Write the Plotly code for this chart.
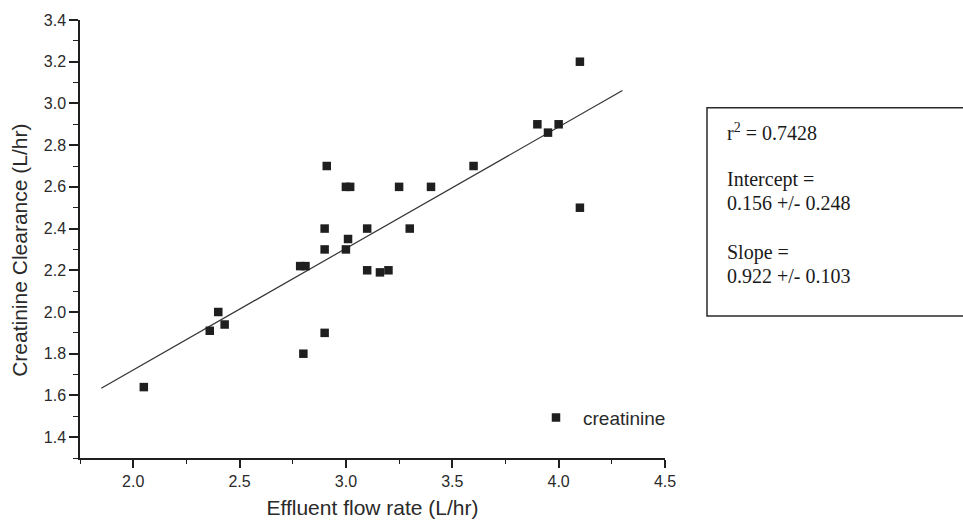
import numpy as np
import plotly.graph_objects as go

# Effluent flow rate (L/hr) vs creatinine clearance (L/hr)
flow_rate = [2.05, 2.36, 2.40, 2.43, 2.785, 2.81, 2.80, 2.90, 2.90, 2.90,
             2.91, 3.00, 3.02, 3.00, 3.01, 3.10, 3.10, 3.16, 3.20, 3.25,
             3.30, 3.40, 3.60, 3.90, 3.95, 4.00, 4.10, 4.10]
clearance = [1.64, 1.91, 2.00, 1.94, 2.22, 2.22, 1.80, 1.90, 2.30, 2.40,
             2.70, 2.60, 2.60, 2.30, 2.35, 2.40, 2.20, 2.19, 2.20, 2.60,
             2.40, 2.60, 2.70, 2.90, 2.86, 2.90, 3.20, 2.50]

# Regression statistics printed in the box
r_squared = "0.7428"
intercept_txt = "0.156 +/- 0.248"
slope_txt = "0.922 +/- 0.103"

x_ticks = [2.0, 2.5, 3.0, 3.5, 4.0, 4.5]
y_ticks = [1.4, 1.6, 1.8, 2.0, 2.2, 2.4, 2.6, 2.8, 3.0, 3.2, 3.4]

INK = "#1f1f1f"
LABEL = "#2a2a2a"
SANS = "Liberation Sans, Arial, sans-serif"
SERIF = "Liberation Serif, Times New Roman, serif"

# least-squares line through the points, drawn a little past the data
b1, b0 = np.polyfit(flow_rate, clearance, 1)
fit_x = np.array([min(flow_rate) - 0.2, max(flow_rate) + 0.2])
fit_y = b0 + b1 * fit_x

fig = go.Figure()
fig.add_trace(go.Scatter(
    x=fit_x, y=fit_y, mode="lines",
    line=dict(color="#333333", width=1.2),
    showlegend=False, hoverinfo="skip"))
fig.add_trace(go.Scatter(
    x=flow_rate, y=clearance, mode="markers", name="creatinine",
    marker=dict(symbol="square", size=8.5, color=INK)))

axis_common = dict(
    showline=True, linecolor=INK, linewidth=1.5,
    ticks="outside", tickcolor=INK, tickwidth=1.5,
    showgrid=False, zeroline=False,
    tickfont=dict(family=SANS, size=16, color=LABEL),
)

fig.update_xaxes(
    range=[1.75, 4.5], tickvals=x_ticks, ticktext=[f"{v:.1f}" for v in x_ticks],
    ticklen=8,
    minor=dict(dtick=0.25, tick0=1.75, ticks="outside", ticklen=4,
               tickwidth=1.2, tickcolor=INK),
    title=dict(text="Effluent flow rate (L/hr)",
               font=dict(family=SANS, size=21, color=LABEL), standoff=11),
    **axis_common)
fig.update_yaxes(
    range=[1.3, 3.4], tickvals=y_ticks, ticktext=[f"{v:.1f}" for v in y_ticks],
    ticklen=9,
    minor=dict(dtick=0.1, tick0=1.3, ticks="outside", ticklen=5,
               tickwidth=1.2, tickcolor=INK),
    **axis_common)

plot_top, plot_bottom, plot_left, plot_right = 18, 462, 80, 665
ph = plot_bottom - plot_top
pw = plot_right - plot_left

annotations = [
    dict(text="Creatinine Clearance (L/hr)", textangle=-90,
         xref="paper", yref="paper", x=(20 - plot_left) / pw,
         y=(plot_bottom - 252) / ph,
         xanchor="center", yanchor="middle", showarrow=False,
         font=dict(family=SANS, size=21, color=LABEL)),
]

# statistics box to the right of the plot
box_lines = [
    (f"r<sup>2</sup> = {r_squared}", 132),
    ("Intercept =", 180),
    (intercept_txt, 204),
    ("Slope =", 254),
    (slope_txt, 277),
]
for txt, ypx in box_lines:
    annotations.append(dict(
        text=txt, xref="paper", yref="paper",
        x=(725 - plot_left) / pw, y=(plot_bottom - ypx) / ph,
        xanchor="left", yanchor="middle", showarrow=False, align="left",
        font=dict(family=SERIF, size=20, color="#1a1a1a")))

fig.add_shape(type="rect", xref="paper", yref="paper",
              x0=(707 - plot_left) / pw, x1=(968 - plot_left) / pw,
              y0=(plot_bottom - 318) / ph, y1=(plot_bottom - 107) / ph,
              line=dict(color=LABEL, width=1.5), fillcolor="rgba(0,0,0,0)")

fig.update_layout(
    width=963, height=528,
    margin=dict(l=plot_left, r=963 - plot_right, t=plot_top, b=528 - plot_bottom),
    paper_bgcolor="white", plot_bgcolor="white",
    annotations=annotations,
    showlegend=True,
    legend=dict(x=(529 - plot_left) / pw, y=(plot_bottom - 421) / ph,
                xanchor="left", yanchor="middle", itemwidth=44,
                bgcolor="rgba(0,0,0,0)",
                font=dict(family=SANS, size=19, color=LABEL)),
)

fig.write_html("out.html")
